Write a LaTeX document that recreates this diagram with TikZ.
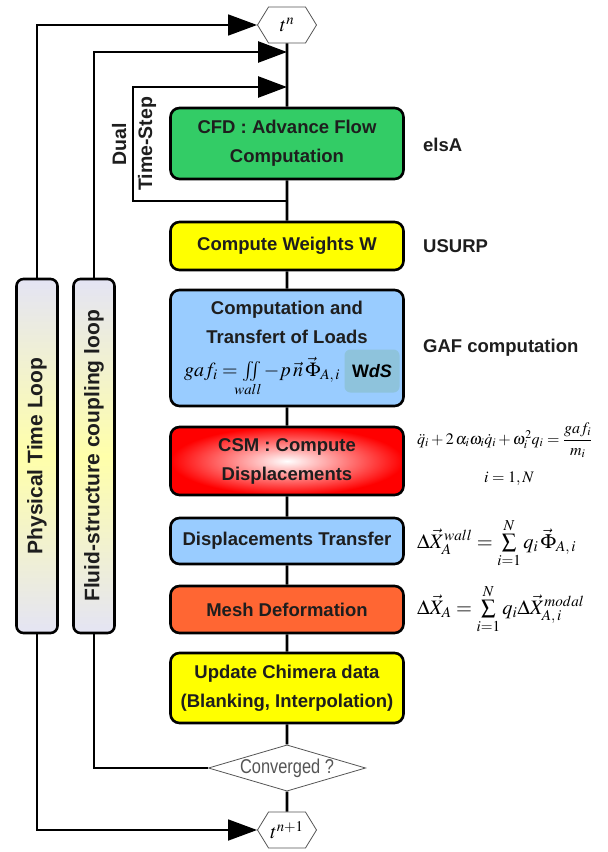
\documentclass[tikz,border=0pt]{standalone}
\usepackage{amsmath}
\usepackage{mathptmx}
\usepackage[no-math]{fontspec}
\newfontfamily\boxfont{Liberation Sans}
\newfontfamily\narrowfont[FakeStretch = 0.82]{Liberation Sans}
\usetikzlibrary{arrows.meta, shapes.geometric, shapes.symbols}

\definecolor{cfdgreen}{HTML}{33CC66}
\definecolor{stepyellow}{HTML}{FFFF00}
\definecolor{loadblue}{HTML}{99CCFF}
\definecolor{meshorange}{HTML}{FF6633}
\definecolor{wdsblue}{HTML}{8EC3DC}
\definecolor{looplav}{HTML}{E4E4F4}
\definecolor{loopyel}{HTML}{FFFFAA}
\definecolor{textgray}{HTML}{1E1E1E}
\definecolor{edgegray}{HTML}{555555}

\tikzset{
  stepbox/.style = {draw, line width = 2.6pt, rounded corners = 9pt, minimum width = 233pt, inner sep = 0pt, align = center, text = textgray, font = \boxfont\bfseries\fontsize{18.5}{29}\selectfont},
  loopbox/.style = {draw, line width = 2.6pt, rounded corners = 7pt, minimum width = 354pt, minimum height = 41pt, inner sep = 0pt, rotate = 90, top color = looplav, bottom color = looplav, middle color = loopyel, text = textgray, font = \boxfont\bfseries\fontsize{21}{24}\selectfont},
  looptext/.style = {rotate = 90, inner sep = 0pt, align = center, text = textgray, font = \boxfont\bfseries\fontsize{19.5}{26}\selectfont},
  hexnode/.style = {signal, signal to = west and east, signal pointer angle = 117, draw = edgegray, line width = .8pt, fill = white, minimum width = 59pt, minimum height = 36pt, inner sep = 0pt, font = \fontsize{20}{22}\selectfont},
  decision/.style = {diamond, aspect = 3.4, draw = edgegray, line width = .8pt, fill = white, minimum width = 155pt, minimum height = 46pt, inner sep = 0pt, text = edgegray, font = \narrowfont\fontsize{20}{22}\selectfont},
  sidelabel/.style = {anchor = west, inner sep = 0pt, text = textgray, font = \boxfont\bfseries\fontsize{18.5}{22}\selectfont},
  eqlabel/.style = {inner sep = 0pt, font = \fontsize{20.5}{24}\selectfont},
  mainline/.style = {line width = 2.8pt},
  ptline/.style = {line width = 1.8pt},
  fsline/.style = {line width = 2.6pt},
  bigtip/.style = {-{Triangle[length = 29pt, width = 21pt]}}
}

\begin{document}
\begin{tikzpicture}[x = 1pt, y = -1pt]
  \useasboundingbox (0, 0) rectangle (608, 852);

  \node [hexnode] (tn) at (287, 25) {$t^{n}$};
  \node [stepbox, fill = cfdgreen, minimum height = 71pt] (cfd) at (287, 143.5) {CFD : Advance Flow\\Computation};
  \node [stepbox, fill = stepyellow, minimum height = 48pt] (weights) at (287, 246) {Compute Weights W};
  \node [stepbox, fill = loadblue, minimum height = 116pt] (loads) at (287, 348) {};
  \node [stepbox, shading = radial, inner color = white, outer color = red, minimum height = 68pt] (csm) at (287, 461) {CSM : Compute\\Displacements};
  \node [stepbox, fill = loadblue, minimum height = 46pt] (disp) at (287, 541) {Displacements Transfer};
  \node [stepbox, fill = meshorange, minimum height = 47pt] (mesh) at (287, 609.5) {Mesh Deformation};
  \node [stepbox, fill = stepyellow, minimum height = 70pt] (chimera) at (287, 688) {Update Chimera data\\(Blanking, Interpolation)};
  \node [decision] (conv) at (287, 768) {Converged ?};
  \node [hexnode] (tnp) at (287, 830) {$t^{n+1}$};

  \node [stepbox, draw = none, fill = none, minimum width = 0pt] (loadstitle) at (287, 322) {Computation and\\Transfert of Loads};
  \node [eqlabel, font = \fontsize{20}{22}\selectfont] (gaf) at (262, 377) {$gaf_{i}=\iint\limits_{wall}-p\,\vec{n}\,\vec{\Phi}_{A,\,i}$};
  \node [fill = wdsblue, rounded corners = 6pt, minimum width = 55pt, minimum height = 43pt, inner sep = 0pt, text = black, font = \boxfont\bfseries\fontsize{18}{20}\selectfont] (wds) at (372, 371) {W\textit{dS}};

  \node [loopbox] (ptl) at (37, 456) {Physical Time Loop};
  \node [loopbox] (fsl) at (94, 456) {Fluid-structure coupling loop};
  \node [looptext] (dual) at (134, 144) {Dual\\Time-Step};

  \node [sidelabel] (elsa) at (423, 145) {elsA};
  \node [sidelabel] (usurp) at (423, 246) {USURP};
  \node [sidelabel] (gafcomp) at (423, 348) {GAF computation};

  \node [eqlabel, anchor = west, font = \fontsize{16}{18}\selectfont] (csmeq) at (417, 440) {$\ddot{q}_{i}+2\,\alpha_{i}\omega_{i}\dot{q}_{i}+\omega_{i}^{2}q_{i}=\dfrac{gaf_{i}}{m_{i}}$};
  \node [eqlabel, font = \fontsize{16}{18}\selectfont] (csmrange) at (509, 479) {$i=1,N$};
  \node [eqlabel, anchor = west] (dispeq) at (417, 543) {$\Delta\vec{X}_{A}^{wall}=\sum\limits_{i=1}^{N}q_{i}\,\vec{\Phi}_{A,\,i}$};
  \node [eqlabel, anchor = west] (mesheq) at (417, 609) {$\Delta\vec{X}_{A}=\sum\limits_{i=1}^{N}q_{i}\Delta\vec{X}_{A,\,i}^{modal}$};

  \coordinate (fsin) at (287, 52);
  \coordinate (dualin) at (287, 87);
  \coordinate (dualout) at (287, 201);

  \draw [mainline] (tn) -- (cfd) -- (weights) -- (loads) -- (csm) -- (disp) -- (mesh) -- (chimera) -- (conv) -- (tnp);
  \draw [fsline, bigtip] (dualout) -- ++(-154, 0) |- (dualin);
  \draw [ptline, bigtip] (ptl.east) |- (tn.west);
  \draw [ptline, bigtip] (ptl.west) |- (tnp.west);
  \draw [fsline] (conv.west) -| (fsl.west);
  \draw [fsline, bigtip] (fsl.east) |- (fsin);
\end{tikzpicture}
\end{document}
